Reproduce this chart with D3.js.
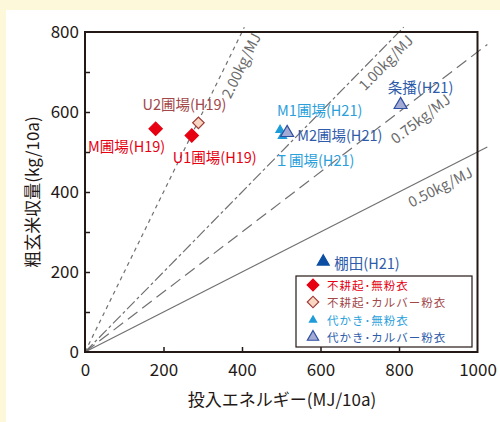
<!DOCTYPE html>
<html><head><meta charset="utf-8">
<script src="https://cdn.jsdelivr.net/npm/d3@7"></script>
<style>
html,body{margin:0;padding:0;background:#FEF8DA;}
svg{display:block;}
text{font-family:"Noto Sans CJK JP","Noto Sans",sans-serif;}
</style></head>
<body>
<script>
// ---- data ----
const xTicks = [0, 200, 400, 600, 800, 1000];
const yTicks = [0, 200, 400, 600, 800];
const yMinorTicks = [100, 300, 500, 700];
const lineRates = [2.0, 1.0, 0.75, 0.5];
const lineLabels = ["2.00kg/MJ", "1.00kg/MJ", "0.75kg/MJ", "0.50kg/MJ"];
const lineLabelX = [395, 764, 853, 904];
const lineLabelY = [717, 725, 585, 415];
const pointNames = ["M圃場(H19)", "U1圃場(H19)", "U2圃場(H19)", "M1圃場(H21)", "Ｉ圃場(H21)", "M2圃場(H21)", "条播(H21)", "棚田(H21)"];
const pointEnergy = [180, 272, 289, 497, 503, 515, 804, 607];
const pointYield = [558, 541, 573, 555, 540, 548, 618, 226];
const pointGroup = [0, 0, 1, 2, 2, 3, 3, 4];
const legendLabels = ["不耕起･無粉衣", "不耕起･カルバー粉衣", "代かき･無粉衣", "代かき･カルバー粉衣"];

// ---- style ----
const groupStyle = [
  {shape:"diamond", fill:"#E60012", stroke:"#E60012", size:88, lsize:68, text:"#E60012"},
  {shape:"diamond", fill:"#F9D6C2", stroke:"#9E3B37", size:66, lsize:66, text:"#A2474A"},
  {shape:"triangle", fill:"#1E9CD9", stroke:"#1E9CD9", size:30, lsize:22, text:"#2AA0DB"},
  {shape:"triangle", fill:"#A3AAD3", stroke:"#2E50A2", size:72, lsize:55, text:"#2E5BAA"},
  {shape:"triangle", fill:"#0B4EA2", stroke:"#0B4EA2", size:62, lsize:62, text:"#2E5BAA"}
];
const labelOffsets = [[-29,17,"middle"],[-19,21,"start"],[-14,-19,"middle"],[-3,-21,"start"],[-8,23,"start"],[10,2,"start"],[20,-18,"middle"],[11,1,"start"]];
const dashes = ["4,4", "11,3,3,3", "12,6", null];

const W = 500, H = 422;
const svg = d3.select("body").append("svg").attr("width", W).attr("height", H);
svg.append("rect").attr("x", 6).attr("y", 10).attr("width", W - 6).attr("height", H - 10).attr("fill", "#fff");

const x = d3.scaleLinear().domain([0, 1000]).range([85, 477.5]);
const y = d3.scaleLinear().domain([0, 800]).range([352, 32]);
const axisColor = "#231815";

// reference lines
const g = svg.append("g");
lineRates.forEach((k, i) => {
  const xe = Math.min(1025, 812 / k);
  g.append("line").attr("x1", x(0)).attr("y1", y(0)).attr("x2", x(xe)).attr("y2", y(k * xe))
    .attr("stroke", "#707070").attr("stroke-width", 1.2)
    .attr("stroke-dasharray", dashes[i]);
  const ang = Math.atan2(y(k) - y(0), x(1) - x(0)) * 180 / Math.PI;
  g.append("text").attr("transform", `translate(${x(lineLabelX[i])},${y(lineLabelY[i])}) rotate(${ang})`)
    .attr("text-anchor", "middle").attr("dominant-baseline", "central")
    .attr("font-size", 14.5).attr("fill", "#6a6a6a").text(lineLabels[i]);
});

// frame
svg.append("rect").attr("x", x(0)).attr("y", y(800)).attr("width", x(1000) - x(0)).attr("height", y(0) - y(800))
  .attr("fill", "none").attr("stroke", axisColor).attr("stroke-width", 2);

// axes
const xAxis = d3.axisBottom(x).tickValues(xTicks).tickSize(-5).tickPadding(12).tickFormat(d3.format("d"));
const xg = svg.append("g").attr("transform", `translate(0,${y(0)})`).call(xAxis);
const yAxis = d3.axisLeft(y).tickValues(yTicks).tickSize(-5).tickPadding(6).tickFormat(d3.format("d"));
const yg = svg.append("g").attr("transform", `translate(${x(0)},0)`).call(yAxis);
const yg2 = svg.append("g").attr("transform", `translate(${x(0)},0)`).call(d3.axisLeft(y).tickValues(yMinorTicks).tickSize(-5).tickFormat(""));
[xg, yg, yg2].forEach(a => {
  a.select(".domain").remove();
  a.selectAll(".tick line").attr("stroke", axisColor).attr("stroke-width", 1.5);
  a.selectAll(".tick text").attr("fill", "#231815").attr("font-size", 17)
   .style("font-family", "'Noto Sans CJK JP', sans-serif");
});
xg.selectAll(".tick").filter(d => d === 0 || d === 1000).select("line").remove();
yg.selectAll(".tick").filter(d => d === 0 || d === 800).select("line").remove();
yg.selectAll(".tick text").attr("dy", "0.35em");

svg.append("text").attr("x", 282).attr("y", 398).attr("text-anchor", "middle").attr("dominant-baseline", "central")
  .attr("font-size", 17).attr("fill", "#231815").text("投入エネルギー(MJ/10a)");
svg.append("text").attr("transform", "translate(31,192) rotate(-90)").attr("text-anchor", "middle").attr("dominant-baseline", "central")
  .attr("font-size", 17).attr("fill", "#231815").text("粗玄米収量(kg/10a)");

function sym(st, size) {
  if (st.shape === "diamond") return d3.symbol(d3.symbolSquare, size)();
  return d3.symbol(d3.symbolTriangle, size)();
}
function rot(st) { return st.shape === "diamond" ? 45 : 0; }

// points
pointNames.forEach((n, i) => {
  const st = groupStyle[pointGroup[i]];
  const px = x(pointEnergy[i]), py = y(pointYield[i]);
  svg.append("path").attr("d", sym(st, st.size)).attr("transform", `translate(${px},${py}) rotate(${rot(st)})`)
    .attr("fill", st.fill).attr("stroke", st.stroke).attr("stroke-width", 1.2);
});
pointNames.forEach((n, i) => {
  const st = groupStyle[pointGroup[i]];
  const px = x(pointEnergy[i]), py = y(pointYield[i]);
  const o = labelOffsets[i];
  svg.append("text").attr("x", px + o[0]).attr("y", py + o[1]).attr("text-anchor", o[2])
    .attr("dominant-baseline", "central").attr("font-size", 14.5).attr("fill", st.text).text(n);
});

// legend
const lg = svg.append("g");
lg.append("rect").attr("x", 296).attr("y", 276).attr("width", 176).attr("height", 71)
  .attr("fill", "#fff").attr("stroke", "#231815").attr("stroke-width", 1.2);
const rowY = [285, 302, 320, 337];
legendLabels.forEach((t, i) => {
  const st = groupStyle[i];
  lg.append("path").attr("d", sym(st, st.lsize)).attr("transform", `translate(313,${rowY[i]}) rotate(${rot(st)})`)
    .attr("fill", st.fill).attr("stroke", st.stroke).attr("stroke-width", 1.2);
  lg.append("text").attr("x", 327).attr("y", rowY[i]).attr("dominant-baseline", "central")
    .attr("font-size", 11.5).attr("letter-spacing", 1).attr("fill", st.text).text(t);
});
</script>
</body></html>
